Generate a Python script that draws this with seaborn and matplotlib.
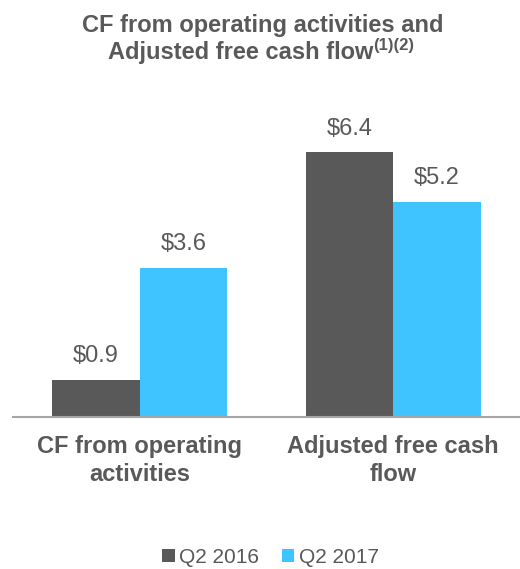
import matplotlib

matplotlib.use("Agg")

import matplotlib.pyplot as plt
import pandas as pd
import seaborn as sns
from matplotlib.patches import Patch

categories = ["CF from operating\nactivities", "Adjusted free cash\nflow"]
periods = ["Q2 2016", "Q2 2017"]
values_2016 = [0.9, 6.4]
values_2017 = [3.6, 5.2]

TEXT = "#595959"
COLORS = {"Q2 2016": "#595959", "Q2 2017": "#40C4FF"}
FONT = "Liberation Sans"

df = pd.DataFrame({
    "category": categories * 2,
    "period": [periods[0]] * 2 + [periods[1]] * 2,
    "value": values_2016 + values_2017,
})

sns.set_theme(style="white")
plt.rcParams["font.family"] = [FONT, "DejaVu Sans"]

fig = plt.figure(figsize=(5.2, 5.69), dpi=100)
ax = fig.add_axes([0.025, 0.2671, 0.975, 0.5457])

sns.barplot(data=df, x="category", y="value", hue="period", palette=COLORS,
            width=0.69, gap=0, saturation=1, legend=False, ax=ax,
            edgecolor="none", linewidth=0)

ax.set_xlim(-0.5, 1.5)
ax.set_ylim(0, 7.5)
ax.set_xlabel("")
ax.set_ylabel("")
ax.set_yticks([])

for container in ax.containers:
    ax.bar_label(container, labels=[f"${v:.1f}" for v in container.datavalues],
                 padding=9, fontsize=17, color=TEXT)

for side in ["left", "right", "top"]:
    ax.spines[side].set_visible(False)
ax.spines["bottom"].set_color("#A6A6A6")
ax.spines["bottom"].set_linewidth(1.5)

ax.set_xticks([0, 1])
ax.set_xticklabels(categories, fontsize=17, fontweight="bold", color=TEXT, linespacing=1.3)
ax.tick_params(axis="x", which="major", length=0, pad=13)
ax.set_xticks([-0.5, 0.5, 1.5], minor=True)
ax.tick_params(axis="x", which="minor", length=7, width=1.5, color="#A6A6A6", direction="out")

handles = [Patch(facecolor=COLORS[p], edgecolor="none", label=p) for p in periods]
fig.legend(handles=handles, loc="center", bbox_to_anchor=(0.52, 0.02), ncol=2,
           frameon=False, fontsize=15, handlelength=0.6, handleheight=0.6,
           handletextpad=0.2, columnspacing=1.1, labelcolor=TEXT)

# title with superscript footnote marks
fig.text(0.505, 0.955, "CF from operating activities and", ha="center", va="center",
         fontsize=17, fontweight="bold", color=TEXT)
main = fig.text(0.5, 0.908, "Adjusted free cash flow", ha="left", va="center",
                fontsize=17, fontweight="bold", color=TEXT)
sup = fig.text(0.5, 0.92, "(1)(2)", ha="left", va="center",
               fontsize=12, fontweight="bold", color=TEXT)
fig.canvas.draw()
renderer = fig.canvas.get_renderer()
w_main = main.get_window_extent(renderer).width / fig.bbox.width
w_sup = sup.get_window_extent(renderer).width / fig.bbox.width
x0 = 0.502 - (w_main + w_sup) / 2
main.set_x(x0)
sup.set_x(x0 + w_main)

fig.savefig("out.png", dpi=100)
